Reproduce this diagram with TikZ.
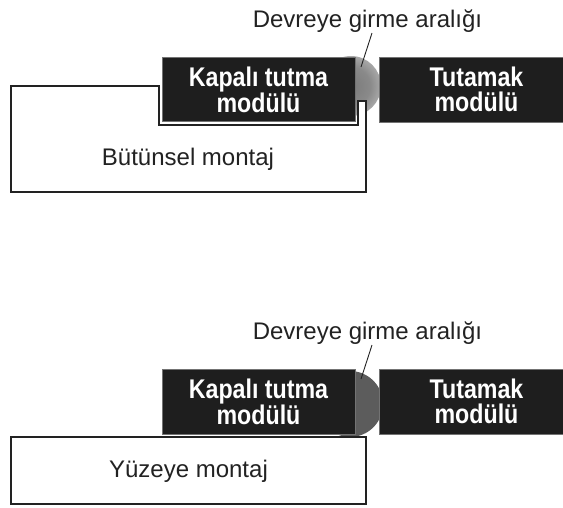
\documentclass[tikz,border=0pt]{standalone}
\usepackage{fontspec}
\setmainfont{Liberation Sans}
\newfontfamily\condb[FakeStretch=0.86]{Liberation Sans}
\definecolor{boxblack}{HTML}{1E1E1E}
\definecolor{ink}{HTML}{222222}
\pgfdeclareradialshading{softshadow}{\pgfpoint{0bp}{0bp}}{color(0bp)=(black!52); color(16bp)=(black!46); color(34bp)=(black!22); color(50bp)=(white)}
\pgfdeclareradialshading{softdisc}{\pgfpoint{0bp}{0bp}}{color(0bp)=(black!64); color(40bp)=(black!64); color(44bp)=(black!40); color(50bp)=(white)}
\tikzset{
  blk/.style={rectangle, fill=boxblack, draw=black!55, line width=0.7pt, inner sep=0pt},
  blktext/.style={text=white, align=center, font=\condb\bfseries\fontsize{27}{24.5}\selectfont, inner sep=0pt},
  lbl/.style={text=ink, font=\fontsize{24}{28}\selectfont, inner sep=0pt, anchor=base},
  outline/.style={draw=ink, fill=white, line width=2.6pt, line join=miter},
  leader/.style={draw=ink, line width=0.9pt}
}
\begin{document}
\begin{tikzpicture}[x=1pt,y=-1pt]
\useasboundingbox (0,0) rectangle (563,507);
% ---------- top: integral mounting ----------
\shade[shading=softshadow] (351,86) circle (30pt);
\draw[outline] (11,86) -- (159,86) -- (159,125) -- (358,125) -- (358,101) -- (366,101) -- (366,192) -- (11,192) -- cycle;
\node[lbl] (bm) at (188,165.7) {Bütünsel montaj};
\node[blk, minimum width=193pt, minimum height=64pt] (k1) at (258.5,89.5) {};
\node[blktext] (k1t) at (k1.center) {Kapalı tutma\\modülü};
\node[blk, minimum width=195pt, minimum height=65pt] (t1) at (476.5,89.5) {};
\node[blktext] (t1t) at (t1.center) {Tutamak\\modülü};
\node[lbl] (d1) at (367.5,27) {Devreye girme aralığı};
\coordinate (d1a) at (372,33);
\coordinate (d1b) at (361,67);
\draw[leader] (d1a) -- (d1b);
% ---------- bottom: surface mounting ----------
\shade[shading=softdisc] (350,404) circle (33pt);
\node[blk, minimum width=193pt, minimum height=65pt] (k2) at (258.5,401.5) {};
\node[blktext] (k2t) at (k2.center) {Kapalı tutma\\modülü};
\node[blk, minimum width=195pt, minimum height=65pt] (t2) at (476.5,401.5) {};
\node[blktext] (t2t) at (t2.center) {Tutamak\\modülü};
\node[outline, rectangle, minimum width=355pt, minimum height=67pt, inner sep=0pt] (sm) at (188.5,470.5) {};
\node[lbl] (smt) at (188.5,477) {Yüzeye montaj};
\node[lbl] (d2) at (367.5,339) {Devreye girme aralığı};
\coordinate (d2a) at (372,345);
\coordinate (d2b) at (361,379);
\draw[leader] (d2a) -- (d2b);
\end{tikzpicture}
\end{document}
